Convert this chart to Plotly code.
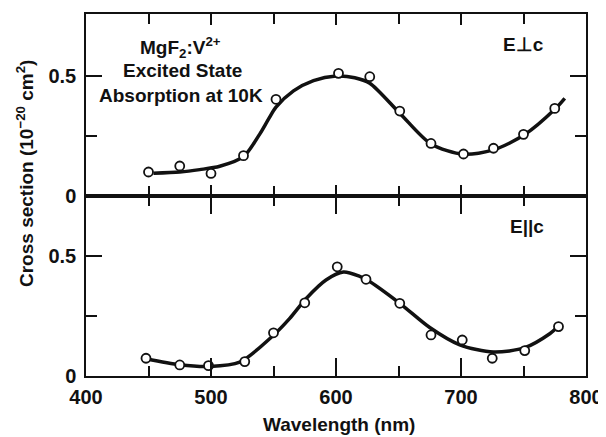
import plotly.graph_objects as go

# ---- data ----
perp_pts_nm = [450, 475, 500, 526, 552, 602, 627, 651, 676, 702, 726, 750, 775]
perp_pts_val = [0.100, 0.125, 0.094, 0.168, 0.403, 0.511, 0.497, 0.354, 0.219, 0.175, 0.199, 0.257, 0.365]
perp_curve_nm = [454, 475, 491, 507, 526, 539, 546, 552, 566, 582, 600, 615, 627, 651, 676, 702, 726, 751, 775, 783]
perp_curve_val = [0.095, 0.100, 0.110, 0.124, 0.164, 0.258, 0.320, 0.370, 0.438, 0.481, 0.500, 0.493, 0.470, 0.345, 0.217, 0.174, 0.192, 0.256, 0.361, 0.407]

par_pts_nm = [448, 475, 498, 527, 550, 575, 601, 624, 651, 676, 701, 725, 751, 778]
par_pts_val = [0.074, 0.046, 0.043, 0.060, 0.180, 0.305, 0.455, 0.403, 0.303, 0.171, 0.150, 0.074, 0.106, 0.206]
par_curve_nm = [448, 475, 499, 523, 550, 563, 576, 592, 606, 619, 625, 651, 675, 699, 726, 751, 771, 777]
par_curve_val = [0.072, 0.047, 0.040, 0.058, 0.170, 0.240, 0.322, 0.400, 0.433, 0.415, 0.400, 0.303, 0.202, 0.130, 0.100, 0.118, 0.176, 0.203]

x_ticks = [400, 500, 600, 700, 800]
y_ticks = [0, 0.5]

FONT = "Liberation Sans"
BLACK = "#111111"

# page offset from the default body margin
OFF = 8
# plot area in page pixels (target)
L, R, T, B = 86, 586, 14, 376
W_PAGE, H_PAGE = 606, 437
FIG_W, FIG_H = W_PAGE - OFF, H_PAGE - OFF

def px_x(px):
    return (px - L) / (R - L)

def px_y(py):
    return (B - py) / (B - T)

fig = go.Figure()

def add_panel(cx, cy, px, py, xa, ya):
    fig.add_trace(go.Scatter(x=cx, y=cy, mode="lines", xaxis=xa, yaxis=ya,
                             line=dict(color=BLACK, width=3.5, shape="spline", smoothing=0.8),
                             hoverinfo="skip", showlegend=False))
    fig.add_trace(go.Scatter(x=px, y=py, mode="markers", xaxis=xa, yaxis=ya,
                             marker=dict(symbol="circle", size=9, color="white",
                                         line=dict(color=BLACK, width=1.8)),
                             showlegend=False))

add_panel(perp_curve_nm, perp_curve_val, perp_pts_nm, perp_pts_val, "x2", "y2")
add_panel(par_curve_nm, par_curve_val, par_pts_nm, par_pts_val, "x", "y")

tickfont = dict(family=FONT, size=20, color=BLACK, weight="bold")

common_x = dict(range=[400, 800], tickvals=x_ticks, showgrid=False, zeroline=False,
                showline=True, linecolor=BLACK, linewidth=1.5, mirror="ticks",
                ticks="inside", tickcolor=BLACK, tickwidth=1.5,
                minor=dict(dtick=50, tick0=0, ticks="inside", ticklen=10, tickwidth=1.5, tickcolor=BLACK))
common_y = dict(tickvals=y_ticks, ticktext=["0", "0.5"], showgrid=False, zeroline=False,
                showline=True, linecolor=BLACK, linewidth=1.5, mirror="ticks",
                ticks="inside", ticklen=16, tickcolor=BLACK, tickwidth=1.5,
                tickfont=tickfont, ticklabelstandoff=4,
                minor=dict(tickvals=[0.25], ticks="inside", ticklen=11, tickwidth=1.5, tickcolor=BLACK))

fig.update_layout(
    width=FIG_W, height=FIG_H,
    margin=dict(l=L - OFF, r=W_PAGE - R, t=T - OFF, b=H_PAGE - B, autoexpand=False),
    paper_bgcolor="white", plot_bgcolor="white",
    xaxis=dict(**common_x, ticklen=18, tickfont=tickfont, anchor="y", ticklabelstandoff=2),
    xaxis2=dict(**common_x, ticklen=11, showticklabels=False, anchor="y2", matches="x"),
    yaxis=dict(**common_y, domain=[0, 0.4972], range=[0, 0.75], anchor="x"),
    yaxis2=dict(**common_y, domain=[0.4972, 1], range=[0, 0.7583], anchor="x2"),
)

annfont = dict(family=FONT, size=19, color=BLACK, weight="bold")
anns = [
    dict(text="MgF<sub>2</sub>:V<sup>2+</sup>", x=180, y=48),
    dict(text="Excited State", x=182, y=71),
    dict(text="Absorption at 10K", x=181, y=95),
    dict(text="E\u22a5c", x=523, y=44),
    dict(text="E||c", x=527, y=226),
]
for a in anns:
    fig.add_annotation(text=a["text"], x=px_x(a["x"]), y=px_y(a["y"]),
                       xref="paper", yref="paper", showarrow=False,
                       xanchor="center", yanchor="middle", font=annfont)

# axis titles as paper annotations
fig.add_annotation(text="Cross section (10<sup>\u221220</sup> cm<sup>2</sup>)",
                   x=px_x(25), y=px_y(174), xref="paper", yref="paper",
                   textangle=-90, showarrow=False, xanchor="center", yanchor="middle",
                   font=dict(family=FONT, size=19, color=BLACK, weight="bold"))
fig.add_annotation(text="Wavelength (nm)",
                   x=px_x(339), y=px_y(424), xref="paper", yref="paper",
                   showarrow=False, xanchor="center", yanchor="middle",
                   font=dict(family=FONT, size=19, color=BLACK, weight="bold"))

fig.write_html("out.html")
